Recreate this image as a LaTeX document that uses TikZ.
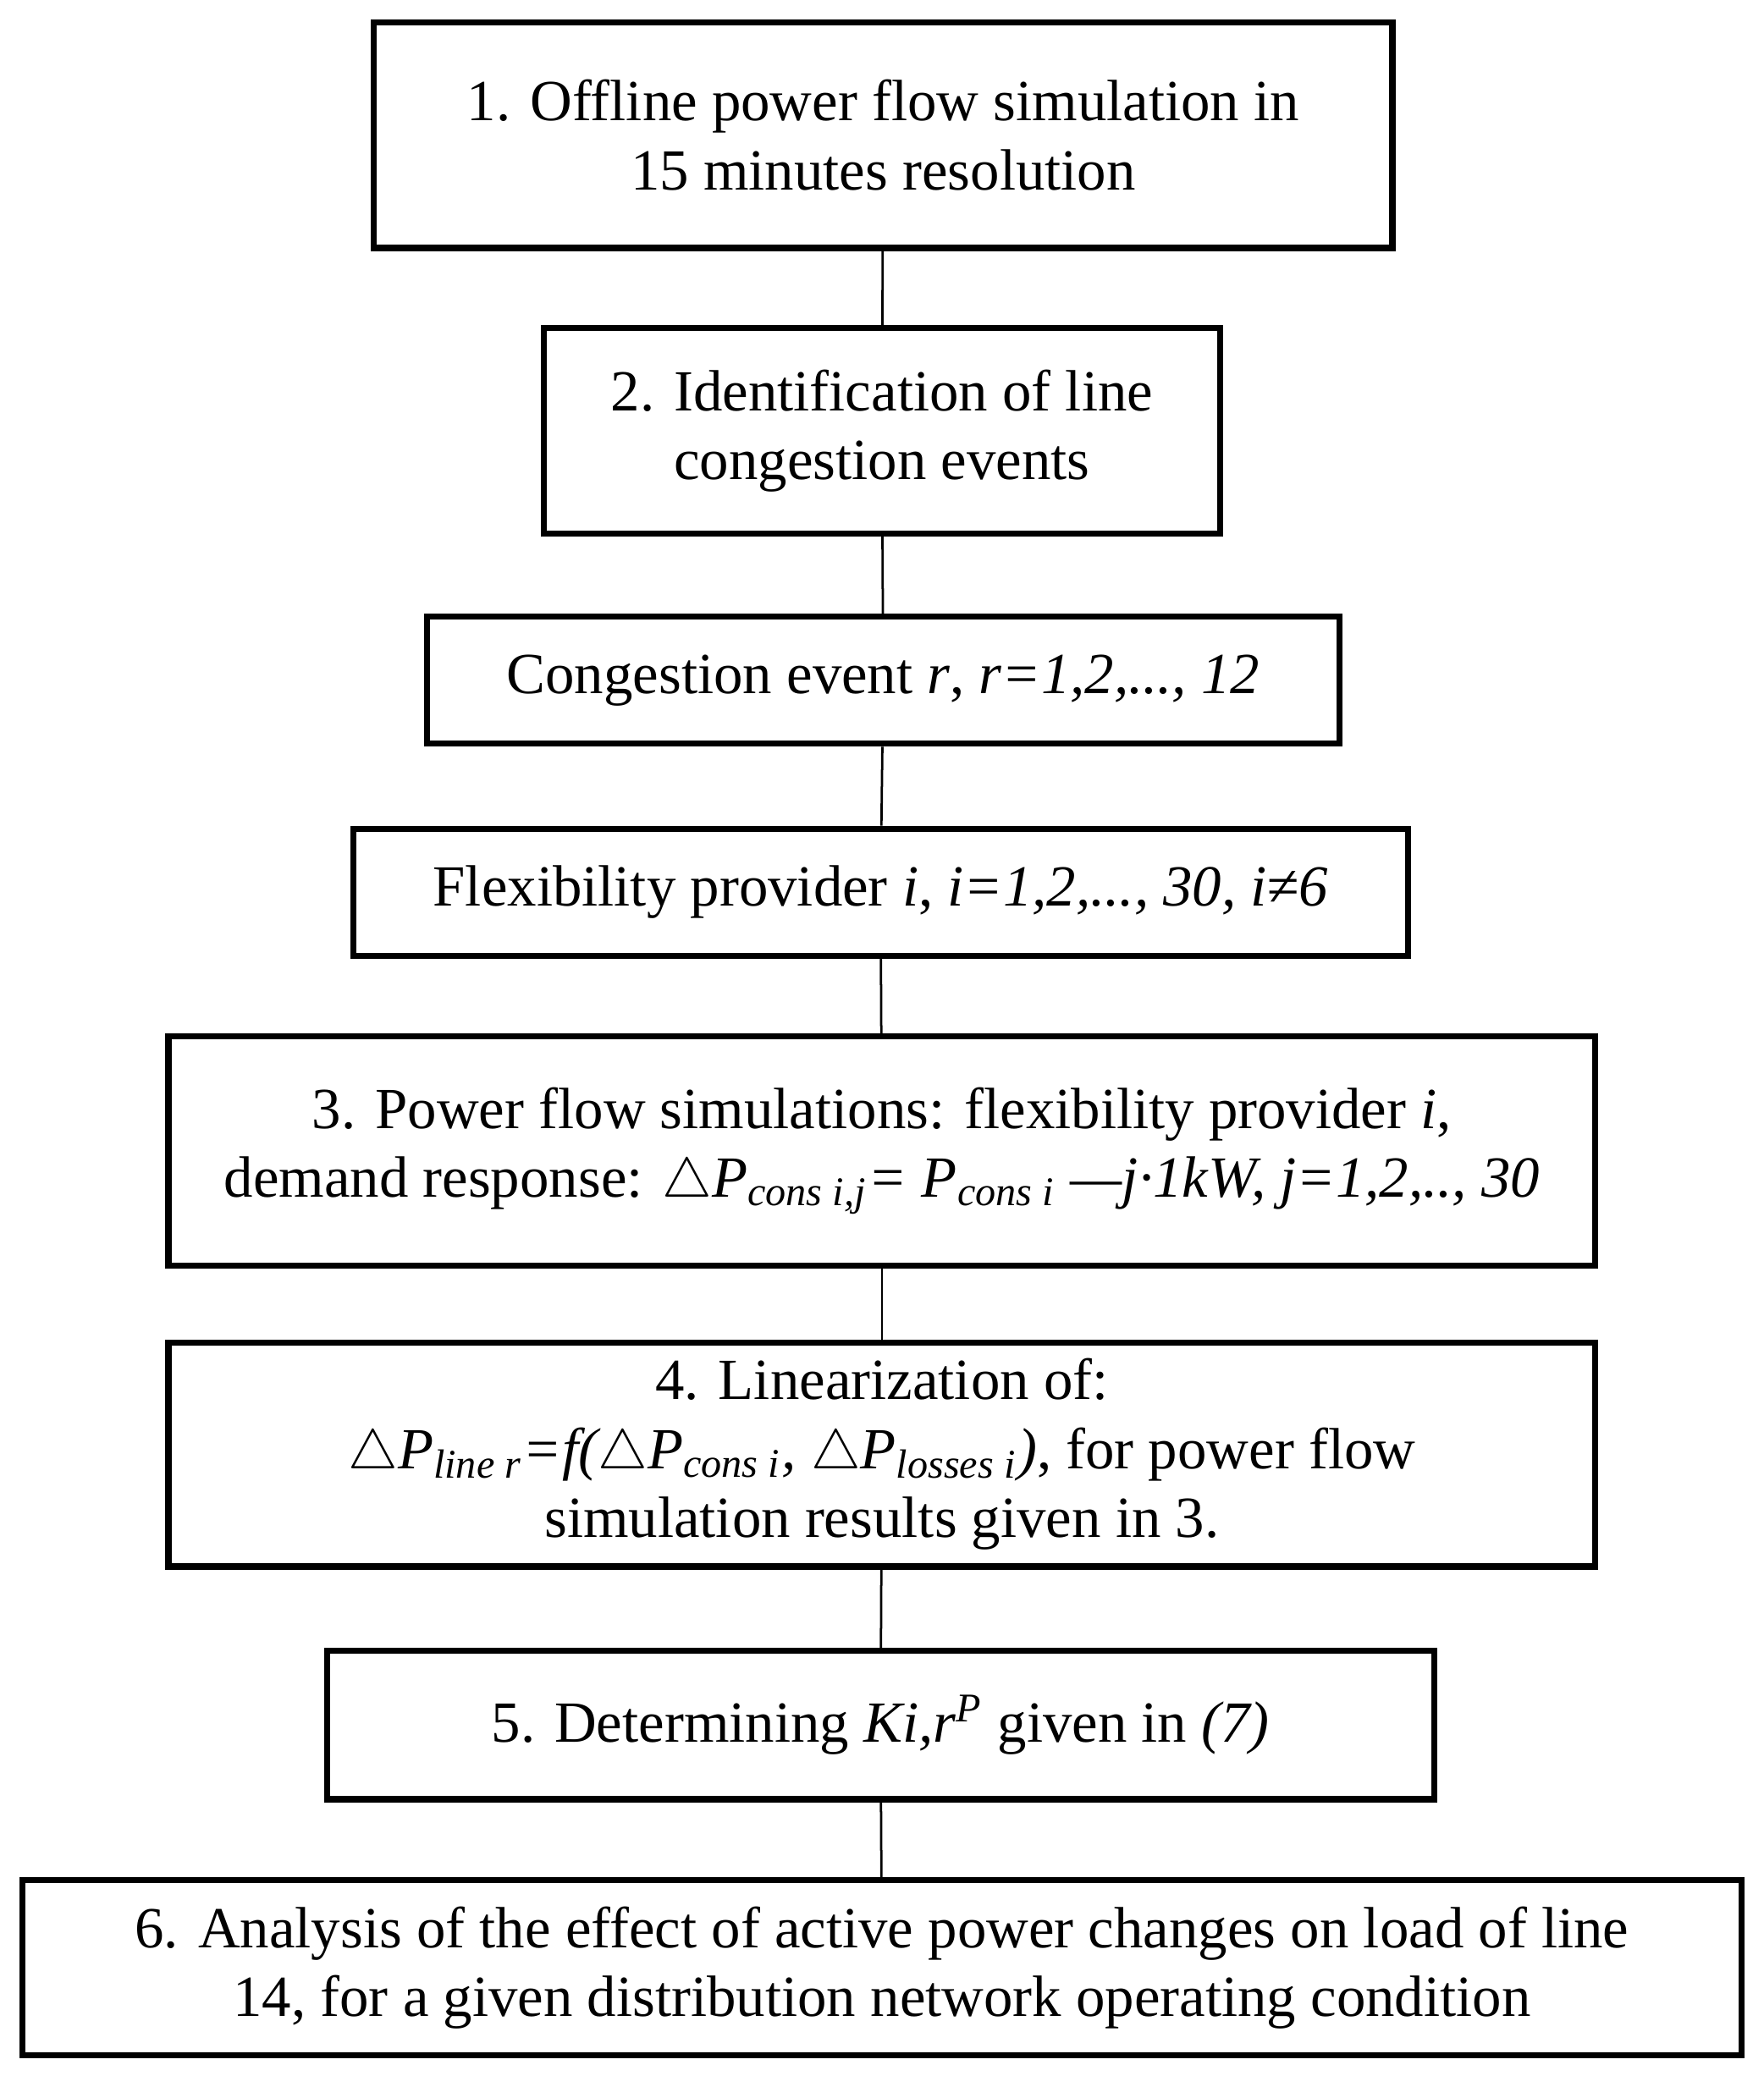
\documentclass[tikz,border=0pt]{standalone}
\usepackage{fontspec}
\setmainfont{Liberation Serif}
\usetikzlibrary{positioning}
\newcommand{\dlt}{$\triangle$}
\newcommand{\sbs}[1]{\textsubscript{\textit{#1}}}
\tikzset{
  stage/.style={rectangle, draw, line width=1.3pt, align=center, inner sep=2pt,
    font=\fontsize{12.5}{14.8}\selectfont},
  link/.style={line width=0.5pt}
}
\begin{document}
\begin{tikzpicture}
    \useasboundingbox (0,0) rectangle (13.3,15.74);
    % Stages
    \node[stage, minimum width=7.68cm, minimum height=1.70cm] (offline) at (6.66,14.72) {1. Offline power flow simulation in\\15 minutes resolution};
    \node[stage, minimum width=5.10cm, minimum height=1.55cm] (ident) at (6.65,12.49) {2. Identification of line\\congestion events};
    \node[stage, minimum width=6.88cm, minimum height=0.96cm] (event) at (6.66,10.61) {Congestion event \textit{r}, \textit{r=1,2,..., 12}};
    \node[stage, minimum width=7.95cm, minimum height=0.96cm] (provider) at (6.64,9.01) {Flexibility provider \textit{i}, \textit{i=1,2,..., 30, i≠6}};
    \node[stage, minimum width=10.76cm, minimum height=1.73cm] (pfsim) at (6.65,7.06) {3. Power flow simulations: flexibility provider \textit{i},\\demand response: \textit{\dlt P\sbs{cons i,j}= P\sbs{cons i} —j·1kW, j=1,2,.., 30}};
    \node[stage, minimum width=10.76cm, minimum height=1.69cm] (linear) at (6.65,4.77) {4. Linearization of:\\\textit{\dlt P\sbs{line r}=f(\dlt P\sbs{cons i}, \dlt P\sbs{losses i})}, for power flow\\simulation results given in 3.};
    \node[stage, minimum width=8.35cm, minimum height=1.12cm] (coeff) at (6.64,2.73) {5. Determining \textit{Ki,r\textsuperscript{P}} given in \textit{(7)}};
    \node[stage, minimum width=12.96cm, minimum height=1.32cm] (analysis) at (6.65,0.90) {6. Analysis of the effect of active power changes on load of line\\14, for a given distribution network operating condition};

    % Links
    \draw[link] (offline) -- (ident);
    \draw[link] (ident) -- (event);
    \draw[link] (event) -- (provider);
    \draw[link] (provider) -- (pfsim);
    \draw[link] (pfsim) -- (linear);
    \draw[link] (linear) -- (coeff);
    \draw[link] (coeff) -- (analysis);
\end{tikzpicture}
\end{document}
